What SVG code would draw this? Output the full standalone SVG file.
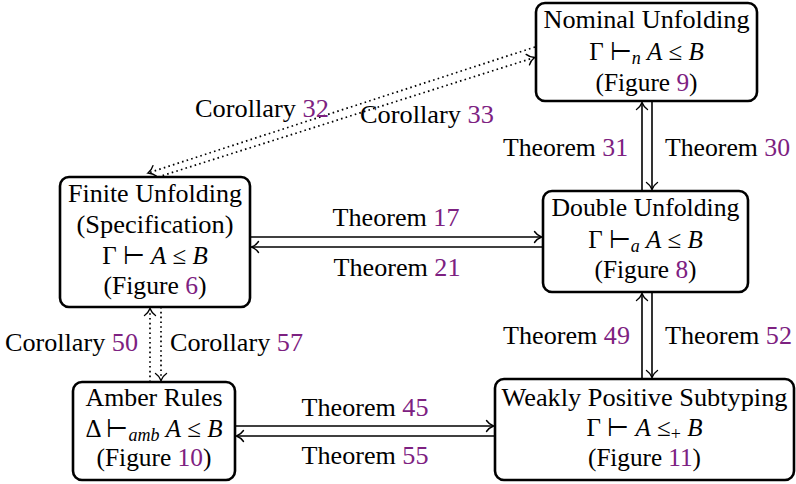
<svg xmlns="http://www.w3.org/2000/svg" width="796" height="484" viewBox="0 0 796 484">
<style>
text{font-family:"Liberation Serif","Times New Roman",serif;font-size:25px;fill:#000}
.m{text-anchor:middle}
.e{text-anchor:end}
.n{fill:#7d2181}
.i{font-style:italic}
.s{font-size:18px}
.box{fill:#fff;stroke:#000;stroke-width:2.6}
.ln{fill:none;stroke:#000;stroke-width:1.6}
.dt{fill:none;stroke:#000;stroke-width:1.7;stroke-dasharray:1.6 3.2}
</style>
<defs>
<marker id="ar" markerUnits="userSpaceOnUse" markerWidth="14" markerHeight="14" viewBox="-10 -7 12 14" refX="0" refY="0" orient="auto">
<path d="M-7,-5.5 C-5,-2.5 -2,-0.8 0,0 C-2,0.8 -5,2.5 -7,5.5" fill="none" stroke="#000" stroke-width="1.4" stroke-linecap="round"/>
</marker>
</defs>
<g id="connectors">
<line class="ln" x1="642" y1="190" x2="642" y2="102.5" marker-end="url(#ar)"/>
<line class="ln" x1="652" y1="101" x2="652" y2="189.5" marker-end="url(#ar)"/>
<line class="ln" x1="642" y1="379" x2="642" y2="293.5" marker-end="url(#ar)"/>
<line class="ln" x1="652" y1="292" x2="652" y2="377.5" marker-end="url(#ar)"/>
<line class="ln" x1="250" y1="237" x2="541.5" y2="237" marker-end="url(#ar)"/>
<line class="ln" x1="543" y1="247" x2="251.5" y2="247" marker-end="url(#ar)"/>
<line class="ln" x1="235" y1="426" x2="493.5" y2="426" marker-end="url(#ar)"/>
<line class="ln" x1="495" y1="436" x2="236.5" y2="436" marker-end="url(#ar)"/>
<line class="dt" x1="150" y1="382" x2="150" y2="308.5" marker-end="url(#ar)"/>
<line class="dt" x1="161" y1="307" x2="161" y2="380.5" marker-end="url(#ar)"/>
<line class="dt" x1="535" y1="47" x2="148" y2="173" marker-end="url(#ar)"/>
<line class="dt" x1="158" y1="177" x2="534.5" y2="57.5" marker-end="url(#ar)"/>
<text x="628" y="156" class="e" textLength="125" lengthAdjust="spacingAndGlyphs">Theorem <tspan class="n">31</tspan></text>
<text x="665" y="156" textLength="125" lengthAdjust="spacingAndGlyphs">Theorem <tspan class="n">30</tspan></text>
<text x="630" y="344" class="e" textLength="127" lengthAdjust="spacingAndGlyphs">Theorem <tspan class="n">49</tspan></text>
<text x="665" y="344" textLength="127" lengthAdjust="spacingAndGlyphs">Theorem <tspan class="n">52</tspan></text>
<text x="396" y="226" class="m" textLength="127" lengthAdjust="spacingAndGlyphs">Theorem <tspan class="n">17</tspan></text>
<text x="397" y="276" class="m" textLength="127" lengthAdjust="spacingAndGlyphs">Theorem <tspan class="n">21</tspan></text>
<text x="365" y="416" class="m" textLength="127" lengthAdjust="spacingAndGlyphs">Theorem <tspan class="n">45</tspan></text>
<text x="365" y="464" class="m" textLength="127" lengthAdjust="spacingAndGlyphs">Theorem <tspan class="n">55</tspan></text>
<text x="138" y="351" class="e" textLength="133" lengthAdjust="spacingAndGlyphs">Corollary <tspan class="n">50</tspan></text>
<text x="170" y="351" textLength="133" lengthAdjust="spacingAndGlyphs">Corollary <tspan class="n">57</tspan></text>
<text x="195" y="117" textLength="134" lengthAdjust="spacingAndGlyphs">Corollary <tspan class="n">32</tspan></text>
<text x="360" y="123" textLength="134" lengthAdjust="spacingAndGlyphs">Corollary <tspan class="n">33</tspan></text>
</g>
<g id="nominal">
<rect class="box" x="536" y="3" width="221" height="98" rx="9"/>
<text x="646.5" y="28" class="m" textLength="206" lengthAdjust="spacingAndGlyphs">Nominal Unfolding</text>
<text x="646.5" y="60" class="m">Γ ⊢<tspan class="i s" dy="4">n</tspan><tspan dy="-4"> </tspan><tspan class="i">A</tspan> ≤ <tspan class="i">B</tspan></text>
<text x="646.5" y="91" class="m" textLength="102" lengthAdjust="spacingAndGlyphs">(Figure <tspan class="n">9</tspan>)</text>
</g>
<g id="finite">
<rect class="box" x="60" y="177" width="190" height="130" rx="9"/>
<text x="155" y="202" class="m" textLength="174" lengthAdjust="spacingAndGlyphs">Finite Unfolding</text>
<text x="155" y="233" class="m" textLength="157" lengthAdjust="spacingAndGlyphs">(Specification)</text>
<text x="155" y="264" class="m">Γ ⊢ <tspan class="i">A</tspan> ≤ <tspan class="i">B</tspan></text>
<text x="155" y="294" class="m" textLength="103" lengthAdjust="spacingAndGlyphs">(Figure <tspan class="n">6</tspan>)</text>
</g>
<g id="double">
<rect class="box" x="543" y="191" width="205" height="101" rx="9"/>
<text x="645.5" y="216" class="m" textLength="188" lengthAdjust="spacingAndGlyphs">Double Unfolding</text>
<text x="645.5" y="248" class="m">Γ ⊢<tspan class="i s" dy="4">a</tspan><tspan dy="-4"> </tspan><tspan class="i">A</tspan> ≤ <tspan class="i">B</tspan></text>
<text x="645.5" y="278" class="m" textLength="102" lengthAdjust="spacingAndGlyphs">(Figure <tspan class="n">8</tspan>)</text>
</g>
<g id="amber">
<rect class="box" x="73" y="382" width="162" height="98" rx="9"/>
<text x="154" y="406" class="m" textLength="137" lengthAdjust="spacingAndGlyphs">Amber Rules</text>
<text x="154" y="437" class="m">Δ ⊢<tspan class="i s" dy="4">amb</tspan><tspan dy="-4"> </tspan><tspan class="i">A</tspan> ≤ <tspan class="i">B</tspan></text>
<text x="154" y="466" class="m" textLength="115" lengthAdjust="spacingAndGlyphs">(Figure <tspan class="n">10</tspan>)</text>
</g>
<g id="weakly">
<rect class="box" x="495" y="379" width="299" height="101" rx="9"/>
<text x="644.5" y="406" class="m" textLength="286" lengthAdjust="spacingAndGlyphs">Weakly Positive Subtyping</text>
<text x="644.5" y="436" class="m">Γ ⊢ <tspan class="i">A</tspan> ≤<tspan class="s" dy="4">+</tspan><tspan dy="-4"> </tspan><tspan class="i">B</tspan></text>
<text x="644.5" y="466" class="m" textLength="113" lengthAdjust="spacingAndGlyphs">(Figure <tspan class="n">11</tspan>)</text>
</g>
</svg>
